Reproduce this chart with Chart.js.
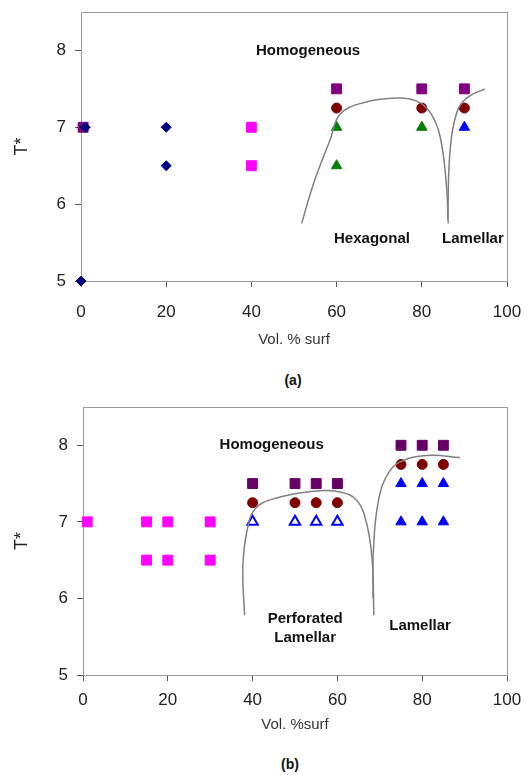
<!DOCTYPE html>
<html>
<head>
<meta charset="utf-8">
<script src="https://cdn.jsdelivr.net/npm/chart.js@4.4.1/dist/chart.umd.min.js"></script>
<style>
  body { margin: 0; background: #fff; width: 527px; height: 775px; position: relative; overflow: hidden;
         font-family: "Liberation Sans", Arial, sans-serif; }
  .wrap { position: absolute; left: 0; width: 527px; }
  .cap { position: absolute; font-weight: bold; font-size: 14px; color: #111; transform: translateX(-50%); }
</style>
</head>
<body>
<div class="wrap" style="top:0;height:355px"><canvas id="chartA"></canvas></div>
<div class="cap" style="left:293px;top:372px">(a)</div>
<div class="wrap" style="top:380px;height:360px"><canvas id="chartB"></canvas></div>
<div class="cap" style="left:290px;top:756px">(b)</div>
<script>
const xTicks = [0, 20, 40, 60, 80, 100];
const yTicks = [5, 6, 7, 8];

// panel (a)
const aDiamondX = [0, 1, 20, 20];
const aDiamondY = [5, 7, 7, 6.5];
const aPinkX = [40, 40];
const aPinkY = [7, 6.5];
const aPurpleX = [0.5, 60, 80, 90];
const aPurpleY = [7, 7.5, 7.5, 7.5];
const aCircleX = [60, 80, 90];
const aCircleY = [7.25, 7.25, 7.25];
const aGreenX = [60, 60, 80];
const aGreenY = [7, 6.5, 7];
const aBlueX = [90];
const aBlueY = [7];
const aCurve1X = [51.8, 54.6, 58.5, 60.8, 66.3, 74.1, 78.8, 82, 84.3, 85.8, 86.2];
const aCurve1Y = [5.75, 6.27, 6.84, 7.17, 7.32, 7.38, 7.34, 7.19, 6.88, 6.23, 5.75];
const aCurve2X = [86.1, 86.6, 88.2, 90.5, 94.8];
const aCurve2Y = [5.8, 6.67, 7.19, 7.38, 7.5];
const aLabelText = ["Homogeneous", "Hexagonal", "Lamellar"];
const aLabelX = [53.3, 68.3, 92];
const aLabelY = [8.0, 5.55, 5.55];

// panel (b)
const bPinkX = [1, 15, 20, 30, 15, 20, 30];
const bPinkY = [7, 7, 7, 7, 6.5, 6.5, 6.5];
const bPurpleX = [40, 50, 55, 60, 75, 80, 85];
const bPurpleY = [7.5, 7.5, 7.5, 7.5, 8, 8, 8];
const bCircleX = [40, 50, 55, 60, 75, 80, 85];
const bCircleY = [7.25, 7.25, 7.25, 7.25, 7.75, 7.75, 7.75];
const bOpenTriX = [40, 50, 55, 60];
const bOpenTriY = [7, 7, 7, 7];
const bBlueX = [75, 80, 85, 75, 80, 85];
const bBlueY = [7.5, 7.5, 7.5, 7, 7, 7];
const bCurve1X = [38.1, 37.7, 38.7, 40.6, 44.9, 54.4, 60.6, 64.6, 66.9, 68.2, 68.6];
const bCurve1Y = [5.78, 6.41, 6.89, 7.17, 7.3, 7.4, 7.39, 7.28, 6.98, 6.5, 5.78];
const bCurve2X = [68.4, 68.5, 69.7, 72.4, 76.4, 81.9, 88.9];
const bCurve2Y = [6.0, 6.63, 7.28, 7.67, 7.82, 7.87, 7.84];
const bLabelText = ["Homogeneous", "Perforated", "Lamellar", "Lamellar"];
const bLabelX = [44.5, 52.4, 52.4, 79.5];
const bLabelY = [8.0, 5.73, 5.48, 5.64];

const pts = (xs, ys) => xs.map((x, i) => ({ x: x, y: ys[i] }));

const marks = (xs, ys, style, color, r, fill) => ({
  data: pts(xs, ys),
  pointStyle: style,
  pointRadius: r,
  backgroundColor: fill || color,
  borderColor: color,
  borderWidth: fill ? 2 : 1,
  showLine: false,
  clip: false,
});

const curve = (xs, ys) => ({
  data: pts(xs, ys),
  showLine: true,
  pointRadius: 0,
  borderColor: "#808080",
  borderWidth: 1.5,
  tension: 0.4,
  fill: false,
});

const framePlugin = {
  id: "frame",
  beforeDatasetsDraw(chart) {
    const { ctx, chartArea: a } = chart;
    ctx.save();
    ctx.strokeStyle = "#9a9a9a";
    ctx.lineWidth = 1;
    ctx.strokeRect(a.left + 0.5, a.top + 0.5, a.right - a.left, a.bottom - a.top);
    ctx.restore();
  },
};

const labelPlugin = {
  id: "regionLabels",
  afterDatasetsDraw(chart, args, opts) {
    const { ctx, scales } = chart;
    ctx.save();
    ctx.font = "bold 15px 'Liberation Sans', Arial, sans-serif";
    ctx.fillStyle = "#111";
    ctx.textAlign = "center";
    ctx.textBaseline = "middle";
    opts.text.forEach((t, i) => {
      ctx.fillText(t, scales.x.getPixelForValue(opts.x[i]), scales.y.getPixelForValue(opts.y[i]));
    });
    ctx.restore();
  },
};

function makeChart(id, datasets, labels, cfg) {
  return new Chart(document.getElementById(id), {
    type: "scatter",
    data: { datasets },
    plugins: [framePlugin, labelPlugin],
    options: {
      responsive: true,
      maintainAspectRatio: false,
      animation: false,
      layout: { padding: { top: cfg.top, right: cfg.right, left: 0, bottom: 0 } },
      plugins: {
        legend: { display: false },
        tooltip: { enabled: false },
        regionLabels: labels,
      },
      scales: {
        x: {
          min: 0,
          max: 100,
          afterBuildTicks: (s) => (s.ticks = xTicks.map((v) => ({ value: v }))),
          afterFit: (s) => {
            s.height = cfg.xHeight;
            s.paddingLeft = 0;
            s.paddingRight = 0;
          },
          border: { color: "#555" },
          grid: { drawOnChartArea: false, tickLength: 6, color: "#555" },
          ticks: { color: "#222", font: { size: 17 }, padding: cfg.xPad, maxRotation: 0 },
          title: { display: true, text: cfg.xTitle, color: "#333", font: { size: 15 }, padding: 6 },
        },
        y: {
          min: 5,
          max: 8.5,
          afterBuildTicks: (s) => (s.ticks = yTicks.map((v) => ({ value: v }))),
          afterFit: (s) => {
            s.width = cfg.yWidth;
            s.paddingTop = 0;
            s.paddingBottom = 0;
          },
          border: { color: "#555" },
          grid: { drawOnChartArea: false, tickLength: 6, color: "#555" },
          ticks: { color: "#222", font: { size: 17 }, padding: 9 },
          title: { display: true, text: "T*", color: "#222", font: { size: 18 }, padding: 11 },
        },
      },
    },
  });
}

Chart.defaults.font.family = "'Liberation Sans', Arial, sans-serif";

// first dataset in the list ends up drawn on top
makeChart(
  "chartA",
  [
    curve(aCurve1X, aCurve1Y),
    curve(aCurve2X, aCurve2Y),
    marks(aDiamondX, aDiamondY, "rectRot", "#000080", 5),
    marks(aPinkX, aPinkY, "rect", "#ff00ff", 7),
    marks(aPurpleX, aPurpleY, "rect", "#800080", 7),
    marks(aCircleX, aCircleY, "circle", "#800000", 5),
    marks(aGreenX, aGreenY, "triangle", "#008000", 6),
    marks(aBlueX, aBlueY, "triangle", "#0000ff", 6),
  ],
  { text: aLabelText, x: aLabelX, y: aLabelY },
  { top: 12, right: 20, xHeight: 74, xPad: 15, yWidth: 81, xTitle: "Vol. % surf" }
);

makeChart(
  "chartB",
  [
    curve(bCurve1X, bCurve1Y),
    curve(bCurve2X, bCurve2Y),
    marks(bPinkX, bPinkY, "rect", "#ff00ff", 7),
    marks(bPurpleX, bPurpleY, "rect", "#660066", 7),
    marks(bCircleX, bCircleY, "circle", "#800000", 5),
    marks(bOpenTriX, bOpenTriY, "triangle", "#0000ff", 6, "#ffffff"),
    marks(bBlueX, bBlueY, "triangle", "#0000ff", 6),
  ],
  { text: bLabelText, x: bLabelX, y: bLabelY },
  { top: 27, right: 20, xHeight: 65, xPad: 9, yWidth: 83, xTitle: "Vol. %surf" }
);
</script>
</body>
</html>
